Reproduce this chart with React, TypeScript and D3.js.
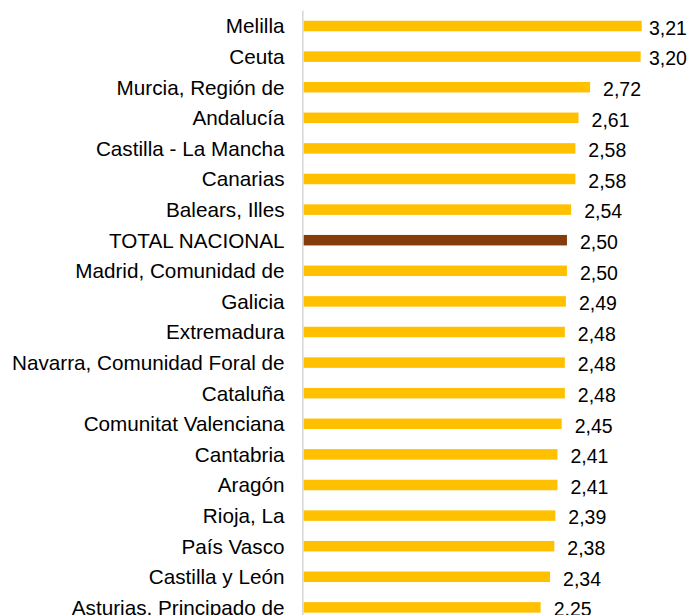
import React from "react";
import * as d3 from "d3";

const categories = [
  "Melilla",
  "Ceuta",
  "Murcia, Región de",
  "Andalucía",
  "Castilla - La Mancha",
  "Canarias",
  "Balears, Illes",
  "TOTAL NACIONAL",
  "Madrid, Comunidad de",
  "Galicia",
  "Extremadura",
  "Navarra, Comunidad Foral de",
  "Cataluña",
  "Comunitat Valenciana",
  "Cantabria",
  "Aragón",
  "Rioja, La",
  "País Vasco",
  "Castilla y León",
  "Asturias, Principado de",
];

const values = [
  3.21, 3.2, 2.72, 2.61, 2.58, 2.58, 2.54, 2.5, 2.5, 2.49, 2.48, 2.48, 2.48,
  2.45, 2.41, 2.41, 2.39, 2.38, 2.34, 2.25,
];

const highlight = "TOTAL NACIONAL";

const W = 691;
const H = 615;

export default function App() {
  const x0 = 303.7;
  const x = d3.scaleLinear().domain([0, 1]).range([x0, x0 + 105.3]);
  const y = d3
    .scalePoint<string>()
    .domain(categories)
    .range([26, 26 + 19 * 30.6]);
  const barH = 10.5;
  const font = "'Liberation Sans', Arial, sans-serif";
  const fmt = (v: number) => v.toFixed(2).replace(".", ",");

  return (
    <div style={{ position: "absolute", left: 0, top: 0 }}>
      <svg width={W} height={H} style={{ display: "block", background: "#fff" }}>
        <line x1={302.8} x2={302.8} y1={10.5} y2={H} stroke="#D9D9D9" strokeWidth={1.6} />
        {categories.map((c, i) => {
          const v = values[i];
          const cy = y(c)!;
          const xe = x(v);
          const lx = Math.min(xe + 13, 649);
          return (
            <g key={c}>
              <rect
                x={x(0)}
                y={cy - barH / 2}
                width={xe - x(0)}
                height={barH}
                fill={c === highlight ? "#843C0C" : "#FFC000"}
              />
              <text
                x={284.5}
                y={cy + 7.3}
                textAnchor="end"
                fontFamily={font}
                fontSize={20.7}
                fill="#000"
              >
                {c}
              </text>
              <text x={lx} y={cy + 8.8} fontFamily={font} fontSize={19.5} fill="#000">
                {fmt(v)}
              </text>
            </g>
          );
        })}
      </svg>
    </div>
  );
}
